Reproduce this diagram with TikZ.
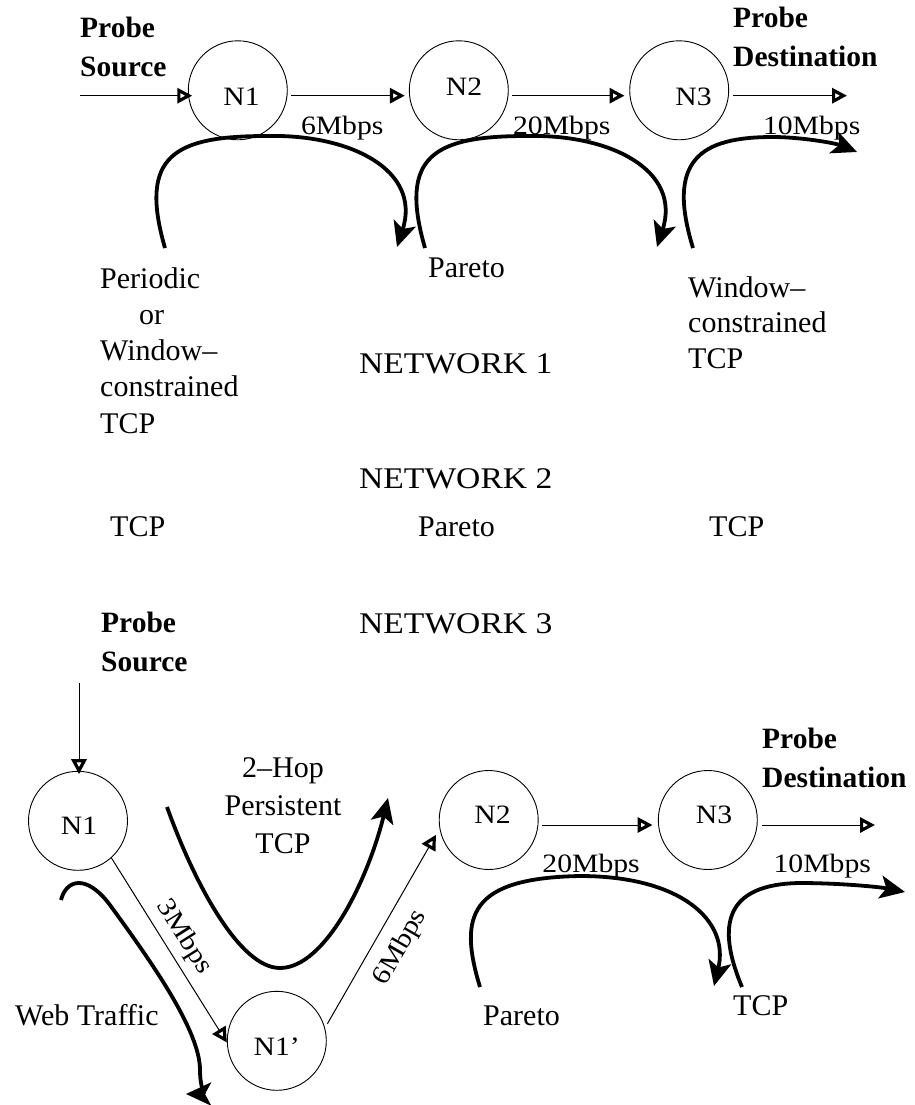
\documentclass[tikz,border=0pt]{standalone}
\usepackage{fontspec}
\setmainfont{Liberation Serif}
\newfontfamily\widefont{Liberation Serif}[FakeStretch=1.12]
\usetikzlibrary{arrows.meta}

\tikzset{
  router/.style={circle, draw, line width=0.9pt, minimum size=99pt, inner sep=0pt},
  routerlabel/.style={inner sep=0pt, font=\widefont\fontsize{26.5}{30}\selectfont},
  ratelabel/.style={inner sep=0pt, font=\widefont\fontsize{26.5}{30}\selectfont},
  link/.style={line width=1pt, -{Triangle[open, length=15pt, width=15pt, line width=3.2pt]}},
  flow/.style={line width=3.8pt, -{Stealth[length=25pt, width=23pt, inset=6pt]}},
  % multi-line labels are anchored at the baseline of their last line
  traffic/.style={inner sep=0pt, anchor=base west, align=left, font=\fontsize{30}{36.25}\selectfont},
  probe/.style={inner sep=0pt, anchor=base west, align=left, font=\bfseries\fontsize{29.5}{39}\selectfont},
  nettitle/.style={inner sep=0pt, anchor=base west, font=\widefont\fontsize{30}{36}\selectfont},
}

\begin{document}
\begin{tikzpicture}[x=1pt, y=-1pt]
\path[use as bounding box] (0,0) rectangle (914,1105);

% ---------------- Network 1: three-hop chain ----------------
\node[router] (a1) at (237.8,90.3) {};
\node[router] (a2) at (458.8,90.3) {};
\node[router] (a3) at (679.2,90.3) {};
\node[routerlabel] (a1t) at ([shift={(3.7,6.2)}]a1.center) {N1};
\node[routerlabel] (a2t) at ([shift={(5.2,-3.3)}]a2.center) {N2};
\node[routerlabel] (a3t) at ([shift={(14.3,6.7)}]a3.center) {N3};

\coordinate (a0) at (80,95.7);
\coordinate (a4) at (847,95.7);
\draw[link, shorten >=-4.4pt] (a0) -- (a0 -| a1.west);
\draw[link, shorten <=3.7pt, shorten >=4pt] ([yshift=-5.4pt]a1.east)
  -- node[ratelabel, pos=0.45, below=20pt] (r1) {6Mbps} ([yshift=-5.4pt]a2.west);
\draw[link, shorten <=3.7pt, shorten >=4.7pt] ([yshift=-5.4pt]a2.east)
  -- node[ratelabel, pos=0.44, below=20pt] (r2) {20Mbps} ([yshift=-5.4pt]a3.west);
\draw[link, shorten <=4.3pt] ([yshift=-5.4pt]a3.east)
  -- node[ratelabel, pos=0.70, below=20pt] (r3) {10Mbps} (a4);

\node[probe] (ps1) at (80,76.3) {Probe\\Source};
\node[probe] (pd1) at (733,67) {Probe\\Destination};

% cross traffic of network 1
\coordinate (f1s) at (165,248);  \coordinate (f1e) at (397,247);
\coordinate (f2s) at (425,248);  \coordinate (f2e) at (657,247);
\coordinate (f3s) at (693,248);  \coordinate (f3e) at (857,152);
\draw[flow] (f1s) .. controls (138,155) and (175,136) .. (267,136)
                  .. controls (350,134) and (422,170) .. (f1e);
\draw[flow] (f2s) .. controls (398,155) and (435,136) .. (527,136)
                  .. controls (610,134) and (682,170) .. (f2e);
\draw[flow] (f3s) .. controls (666,160) and (700,137) .. (773,137)
                  .. controls (800,137) and (835,143) .. (f3e);

\node[traffic] (t1) at (100,433) {Periodic\\\hspace*{39pt}or\\Window–\\constrained\\TCP};
\node[traffic] (t2) at (428,277) {Pareto};
\node[traffic, font=\fontsize{30}{35.5}\selectfont] (t3) at (688,368) {Window–\\constrained\\TCP};

% ---------------- titles and network 2 ----------------
\node[nettitle] (nw1) at (359,373) {NETWORK 1};
\node[nettitle] (nw2) at (359,488) {NETWORK 2};
\node[nettitle] (nw3) at (359,633) {NETWORK 3};
\node[traffic] (u1) at (110,536) {TCP};
\node[traffic] (u2) at (418,536) {Pareto};
\node[traffic] (u3) at (709,536) {TCP};

% ---------------- Network 3: two-hop detour ----------------
\node[router] (b1)  at (78,820.8) {};
\node[router] (b1p) at (276.8,1040.8) {};
\node[router] (b2)  at (488.7,820) {};
\node[router] (b3)  at (707.8,820) {};
\node[routerlabel] (b1t)  at ([shift={(1,4.7)}]b1.center) {N1};
\node[routerlabel] (b1pt) at ([shift={(0,6)}]b1p.center) {N1’};
\node[routerlabel] (b2t)  at ([shift={(3.8,-5)}]b2.center) {N2};
\node[routerlabel] (b3t)  at ([shift={(6.2,-5)}]b3.center) {N3};

\coordinate (b0) at (79,683);
\coordinate (b4) at (875,825);
\draw[link, shorten >=-3.3pt] (b0) -- (b0 |- b1.north);
\draw[link] (b1.-48) -- node[ratelabel, sloped, pos=0.485, above=6.8pt] (r4) {3Mbps} (b1p.182);
\draw[link, shorten <=4.7pt, shorten >=7pt] (b1p.15)
  -- node[ratelabel, sloped, pos=0.467, below=13pt] (r5) {6Mbps} (b2.190);
\draw[link, shorten <=3.3pt, shorten >=5.3pt] ([yshift=-5pt]b2.east)
  -- node[ratelabel, pos=0.44, below=29pt] (r6) {20Mbps} ([yshift=-5pt]b3.west);
\draw[link, shorten <=4.7pt] ([yshift=-5pt]b3.east)
  -- node[ratelabel, pos=0.55, below=29pt] (r7) {10Mbps} (b4);

\node[probe] (ps3) at (101,671) {Probe\\Source};
\node[probe] (pd3) at (762,787) {Probe\\Destination};

% cross traffic of network 3
\coordinate (g1s) at (167,807);  \coordinate (g1e) at (388,798);
\coordinate (g2s) at (61,900);   \coordinate (g2e) at (186,1094);
\coordinate (g3s) at (480,987);  \coordinate (g3e) at (714,986);
\coordinate (g4s) at (742,987);  \coordinate (g4e) at (905,892);
\draw[flow] (g1s) .. controls (195,885) and (240,968) .. (280,968)
                  .. controls (325,968) and (368,880) .. (g1e);
\draw[flow] (g2s) .. controls (66,880) and (86,873) .. (110,905)
                  .. controls (150,960) and (200,1030) .. (200,1070)
                  .. controls (200,1088) and (205,1094) .. (g2e);
\draw[flow] (g3s) .. controls (458,915) and (470,878) .. (580,876)
                  .. controls (680,876) and (730,920) .. (g3e);
\draw[flow] (g4s) .. controls (716,925) and (725,884) .. (800,883)
                  .. controls (840,883) and (880,887) .. (g4e);

\node[traffic, anchor=base, align=center, font=\fontsize{30}{38}\selectfont] (w1) at (283,853) {2–Hop\\Persistent\\TCP};
\node[traffic] (w2) at (15,1025) {Web Traffic};
\node[traffic] (w3) at (483,1025) {Pareto};
\node[traffic] (w4) at (733,1015) {TCP};
\end{tikzpicture}
\end{document}
